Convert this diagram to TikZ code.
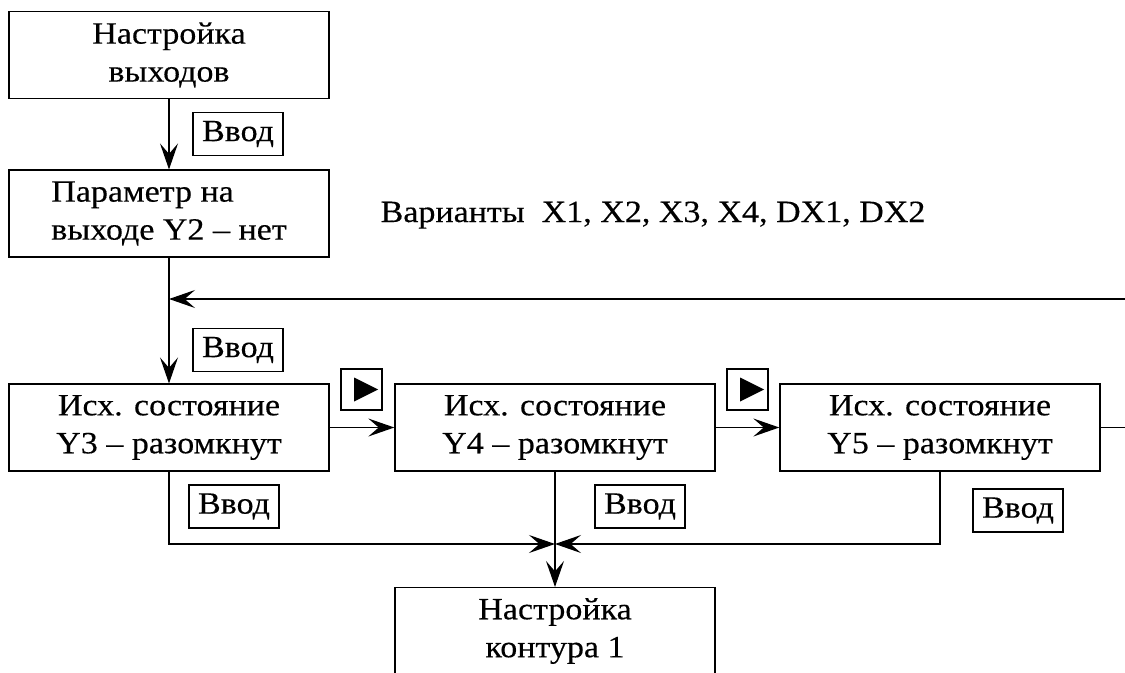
\documentclass[tikz,border=0pt]{standalone}
\usepackage{fontspec}
\setmainfont{Liberation Serif}[FakeStretch = 1.1, FakeBold = 0.3]
\usetikzlibrary{positioning, arrows.meta, shapes.geometric}
\tikzset{
  > = {Stealth[length = 6.5mm, width = 4.5mm, inset = 2.6mm]},
  label font/.style = {font = \fontsize{22}{27}\selectfont},
  stage/.style = {draw, align = center, inner sep = 0, label font,
    minimum width = 8cm, minimum height = 2.17cm},
  key/.style = {draw, inner sep = 0, label font,
    minimum width = 2.25cm, minimum height = 1.07cm},
  playkey/.style = {draw, inner sep = 0, minimum size = 1.03cm},
  playmark/.style = {isosceles triangle, isosceles triangle stretches,
    fill = black, inner sep = 0, minimum width = 0.6cm, minimum height = 0.6cm}
}

\begin{document}
\begin{tikzpicture}[x = 0.025cm, y = -0.025cm, line width = 0.9pt]
\useasboundingbox (0,0) rectangle (1125,672);

%% Stages
\node [stage] (outs) at (169, 55) {Настройка\\выходов};
\node [stage, align = left] (param) at (169, 213.5) {Параметр на\\выходе Y2 – нет};
\node [stage] (init3) at (169, 427.5) {Исх. состояние\\Y3 – разомкнут};
\node [stage] (init4) at (555, 427.5) {Исх. состояние\\Y4 – разомкнут};
\node [stage] (init5) at (940, 427.5) {Исх. состояние\\Y5 – разомкнут};
\node [stage] (loop1) at (555, 631) {Настройка\\контура 1};

%% Keys
\node [key] (enter1) at (238, 134) {Ввод};
\node [key] (enter2) at (238, 350) {Ввод};
\node [key] (enter3) at (234, 506.5) {Ввод};
\node [key] (enter4) at (640, 506.5) {Ввод};
\node [key] (enter5) at (1018, 510.5) {Ввод};
\node [playkey] (next1) at (361.5, 389.5) {};
\node [playmark] (next1mark) at (next1) {};
\node [playkey] (next2) at (747.5, 389.5) {};
\node [playmark] (next2mark) at (next2) {};

%% Variants
\node [label font, anchor = base west, inner sep = 0] (variants) at (380, 222)
  {Варианты\ \ X1, X2, X3, X4, DX1, DX2};

%% Free ends
\coordinate (back) at (1130, 299);
\coordinate (onward) at (1130, 427.5);
\coordinate (merge) at (555, 544);

%% Connectors
\draw [->] (outs) -- (param);
\draw [->] (param) -- (init3);
\draw [->] (back) -- (back -| param.south);
\draw [->] (init3) -- (init4);
\draw [->] (init4) -- (init5);
\draw (init5) -- (onward);
\draw [->] (init3.south) |- (merge);
\draw [->] (init5.south) |- (merge);
\draw [->] (init4) -- (loop1);
\end{tikzpicture}
\end{document}
